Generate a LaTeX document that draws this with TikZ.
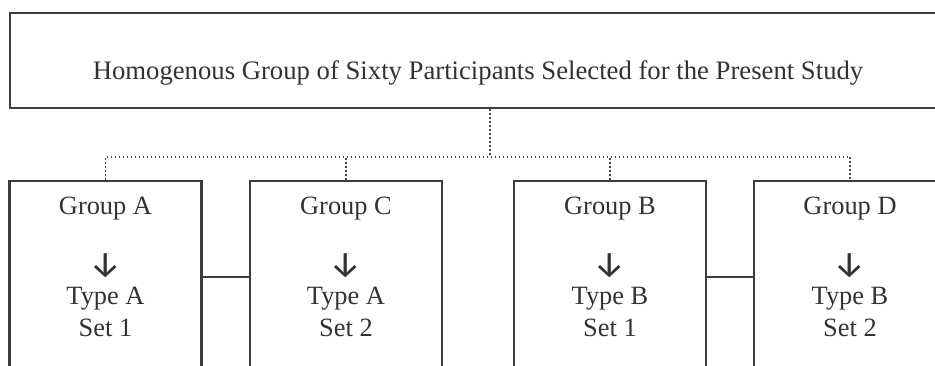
\documentclass[tikz,border=0pt]{standalone}
\usepackage{fontspec}
\setmainfont{Liberation Serif}
\newfontfamily\arrowfont{Fira Sans}
\usetikzlibrary{positioning}
\definecolor{framegray}{RGB}{60,60,60}
\definecolor{inkgray}{RGB}{50,50,50}
\definecolor{dotgray}{RGB}{70,70,70}

\begin{document}
\begin{tikzpicture}[x=0.5pt, y=-0.5pt,
    every node/.style={font=\fontsize{13.2}{15.65}\selectfont, text=inkgray},
    topbox/.style={draw=framegray, line width=1.1pt, minimum width=468pt, minimum height=47.5pt,
        text height=22pt, text depth=3pt, inner sep=0pt, font=\fontsize{13.35}{15.65}\selectfont},
    grpbox/.style={draw=framegray, line width=1.1pt, minimum width=96pt, minimum height=96pt, inner sep=0pt},
    grptext/.style={align=center, inner sep=0pt},
    tree/.style={dotgray, line width=0.9pt, dash pattern=on 0.9pt off 1.1pt},
    link/.style={framegray, line width=1.1pt}]

    \useasboundingbox (0,0) rectangle (935,365);
    \clip (0,0) rectangle (935,365);

    % whole sample
    \node[topbox] (pop) at (478,60.8) {Homogenous Group of Sixty Participants Selected for the Present Study};

    % the four groups
    \foreach \g/\x/\typ/\set in {A/105.5/A/1, C/346/A/2, B/610/B/1, D/850/B/2} {
        \node[grpbox] (g\g) at (\x,276.7) {};
        \node[grptext, below=8.75pt of g\g.north] (t\g)
            {Group \g\\[13.7pt]\raisebox{-1.5pt}{\arrowfont\fontsize{18}{15.65}\selectfont ↓}\\Type \typ\\Set \set};
    }

    % dotted split
    \coordinate (hub) at (490,156.7);
    \draw[tree] (pop.south -| hub) -- (hub);
    \draw[tree] (gA.north) |- (hub) -| (gD.north);
    \draw[tree] (gC.north) -- (gC.north |- hub);
    \draw[tree] (gB.north) -- (gB.north |- hub);

    % pairs
    \draw[link] (gA.east) -- (gC.west);
    \draw[link] (gB.east) -- (gD.west);

\end{tikzpicture}
\end{document}
